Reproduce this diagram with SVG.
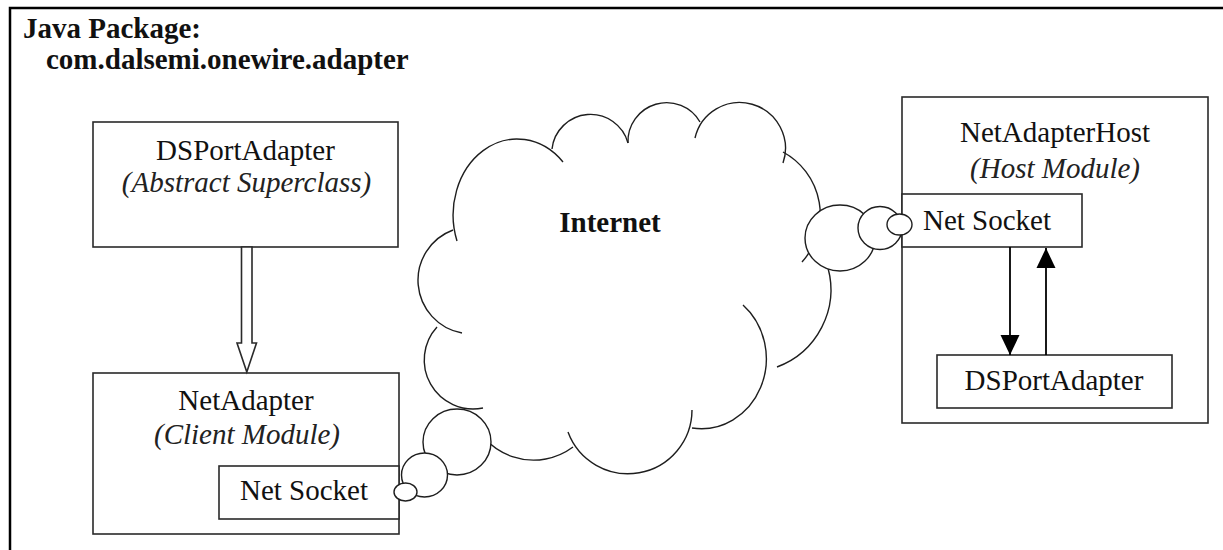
<svg xmlns="http://www.w3.org/2000/svg" width="1223" height="550" viewBox="0 0 1223 550">
<defs>
<style>
.box{fill:#fff;stroke:#2a2a2a;stroke-width:1.6}
.cl{fill:none;stroke:#1e1e1e;stroke-width:1.4}
.bub{fill:#fff;stroke:#1e1e1e;stroke-width:1.4}
.t{font-family:"Liberation Serif","Times New Roman",serif;font-size:29px;fill:#111;text-anchor:middle}
.i{font-style:italic;fill:#222}
.b{font-weight:bold}
</style>
<marker id="ah" viewBox="0 0 20 20" refX="20" refY="10" markerWidth="20" markerHeight="20" markerUnits="userSpaceOnUse" orient="auto">
<path d="M0,0.5 L20,10 L0,19.5 Z" fill="#000"/>
</marker>
</defs>
<rect width="1223" height="550" fill="#fff"/>
<g id="frame">
<path d="M10,550 V8 H1223" fill="none" stroke="#000" stroke-width="2.5"/>
<text class="t b" x="23" y="38" style="text-anchor:start">Java Package:</text>
<text class="t b" x="46" y="69" style="text-anchor:start">com.dalsemi.onewire.adapter</text>
</g>
<g id="dsportadapter-abstract">
<rect class="box" x="93" y="122" width="305" height="125"/>
<text class="t" x="245.5" y="160">DSPortAdapter</text>
<text class="t i" x="246.5" y="192">(Abstract Superclass)</text>
</g>
<g id="netadapter">
<rect class="box" x="93" y="373" width="306" height="161"/>
<text class="t" x="246" y="410">NetAdapter</text>
<text class="t i" x="247" y="444">(Client Module)</text>
</g>
<g id="netsocket-client">
<rect class="box" x="219" y="466" width="180" height="53"/>
<text class="t" x="304" y="500">Net Socket</text>
</g>
<g id="netadapterhost">
<rect class="box" x="902" y="97" width="306" height="326"/>
<text class="t" x="1055" y="142">NetAdapterHost</text>
<text class="t i" x="1055" y="178">(Host Module)</text>
</g>
<g id="netsocket-host">
<rect class="box" x="902" y="194" width="180" height="53"/>
<text class="t" x="987" y="230">Net Socket</text>
</g>
<g id="dsportadapter-host">
<rect class="box" x="937" y="355" width="235" height="53"/>
<text class="t" x="1054" y="390">DSPortAdapter</text>
</g>
<g id="internet">
<path class="cl" d="M457,241 A64,76 0 0 1 563,162"/>
<path class="cl" d="M552,149 A38.8,38.8 0 0 1 628,143"/>
<path class="cl" d="M628,143 A38.6,38.6 0 0 1 700,122"/>
<path class="cl" d="M695,138 A45.8,45.8 0 1 1 783,163"/>
<path class="cl" d="M783,152 A71,71 0 0 1 802,262"/>
<path class="cl" d="M828,268 A82.6,82.6 0 0 1 777,367"/>
<path class="cl" d="M743,305 A65,70 0 0 1 692,428"/>
<path class="cl" d="M692,410 A64,64 0 0 1 568,432"/>
<path class="cl" d="M573,447 A66,66 0 0 1 470,412"/>
<path class="cl" d="M483,408 A49,49 0 0 1 437,327"/>
<path class="cl" d="M462,333 A53.6,53.6 0 0 1 453,230"/>
<text class="t b" x="610" y="232">Internet</text>
<ellipse class="bub" cx="840" cy="238" rx="35" ry="33"/>
<ellipse class="bub" cx="880" cy="228" rx="22" ry="21.5"/>
<ellipse class="bub" cx="899.5" cy="224.5" rx="12.5" ry="10.5"/>
<ellipse class="bub" cx="457" cy="442" rx="34" ry="33"/>
<ellipse class="bub" cx="424.5" cy="475" rx="23" ry="22"/>
<ellipse class="bub" cx="405.5" cy="492" rx="11.5" ry="9"/>
</g>
<g id="connectors">
<polygon points="241.5,247 252,247 252,343 256.5,343 246.8,372 237,343 241.5,343" fill="#fff" stroke="#2a2a2a" stroke-width="1.6"/>
<line x1="1010" y1="247" x2="1010" y2="355" stroke="#000" stroke-width="1.8" marker-end="url(#ah)"/>
<line x1="1046" y1="355" x2="1046" y2="248" stroke="#000" stroke-width="1.8" marker-end="url(#ah)"/>
</g>
</svg>
